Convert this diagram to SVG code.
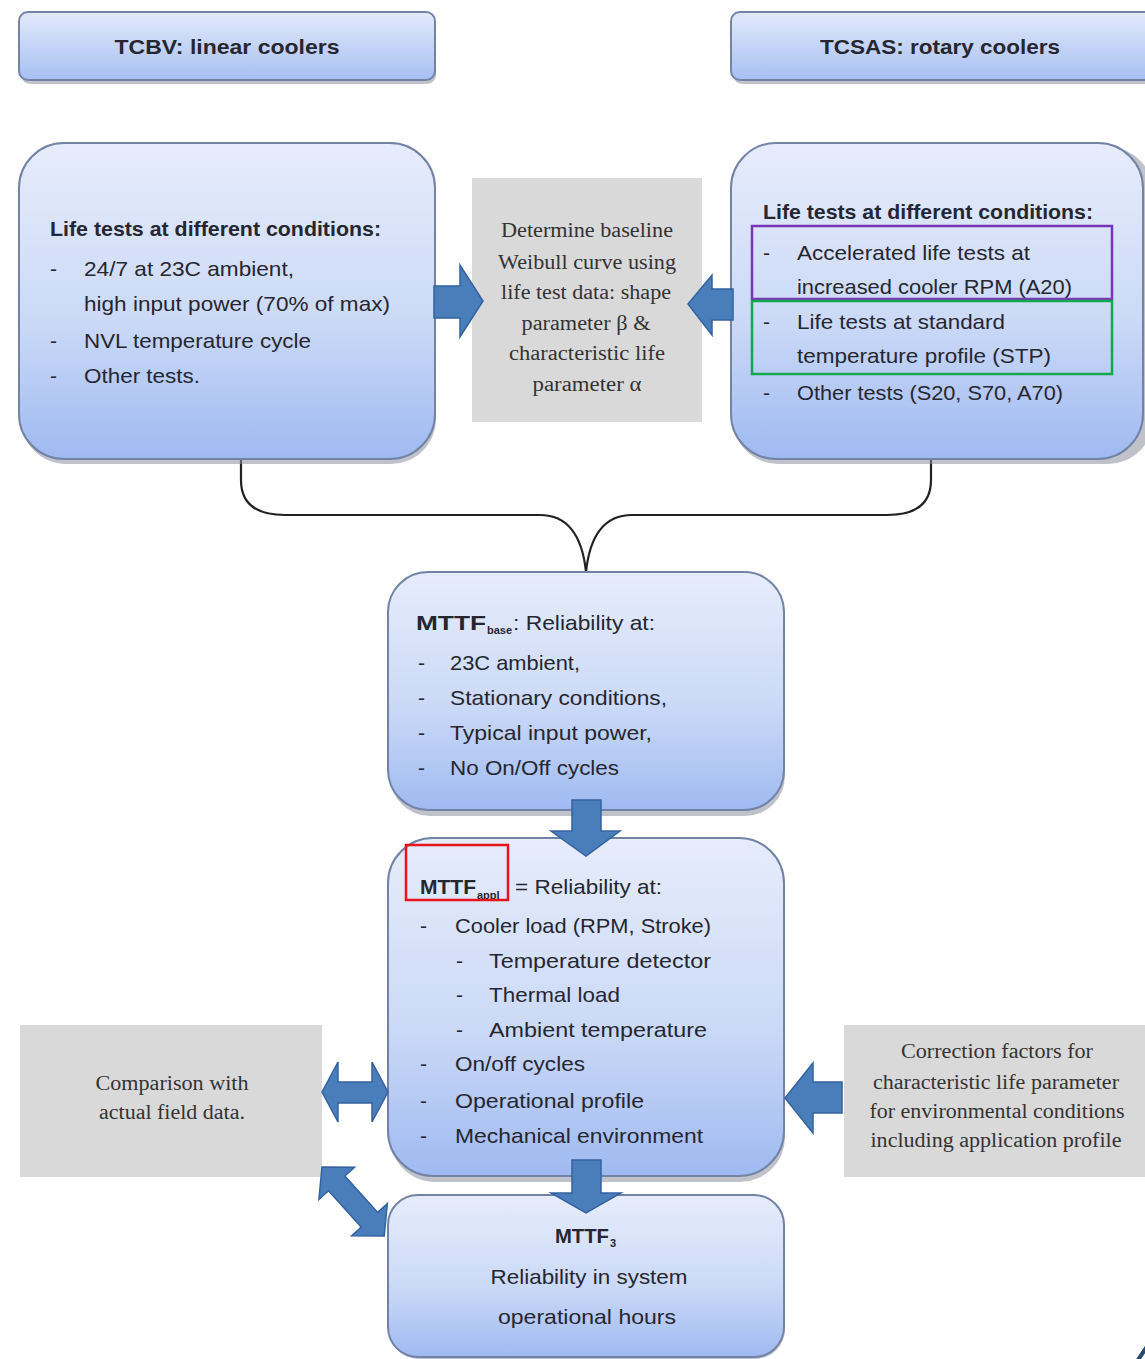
<svg xmlns="http://www.w3.org/2000/svg" width="1145" height="1359" viewBox="0 0 1145 1359">
<defs>
<linearGradient id="bg" x1="0" y1="0" x2="0" y2="1">
<stop offset="0" stop-color="#e6ecfb"/>
<stop offset="0.55" stop-color="#ccdaf7"/>
<stop offset="1" stop-color="#9fbaf1"/>
</linearGradient>
<linearGradient id="hg" x1="0" y1="0" x2="0" y2="1">
<stop offset="0" stop-color="#e3eafb"/>
<stop offset="1" stop-color="#a6bff2"/>
</linearGradient>
</defs>
<style>
.box{fill:url(#bg);stroke:#7283a6;stroke-width:2}
.hdr{fill:url(#hg);stroke:#7283a6;stroke-width:2}
.sh{fill:#8a8f9a;opacity:0.55}
.grey{fill:#d9d9d9}
.t{font-family:"Liberation Sans",Arial,sans-serif;font-size:21px;fill:#262630}
.b{font-weight:bold}
.sub{font-family:"Liberation Sans",Arial,sans-serif;font-size:11px;font-weight:bold;fill:#262630}
.s{font-family:"Liberation Serif","Times New Roman",serif;font-size:20px;fill:#333333;text-anchor:middle}
.arr{fill:#4a7ebb;stroke:#3462a0;stroke-width:1.5}
.con{fill:none;stroke:#222222;stroke-width:2.2}
</style>
<rect width="1145" height="1359" fill="#ffffff"/>

<g id="hdr-tcbv">
<rect class="sh" x="21" y="15" width="415" height="69" rx="9"/>
<rect class="hdr" x="19" y="12" width="416" height="68" rx="9"/>
<text class="t b" x="227" y="54" font-size="24" text-anchor="middle" textLength="225" lengthAdjust="spacingAndGlyphs">TCBV: linear coolers</text>
</g>
<g id="hdr-tcsas">
<rect class="sh" x="733" y="15" width="420" height="69" rx="9"/>
<rect class="hdr" x="731" y="12" width="424" height="68" rx="9"/>
<text class="t b" x="940" y="54" font-size="24" text-anchor="middle" textLength="240" lengthAdjust="spacingAndGlyphs">TCSAS: rotary coolers</text>
</g>

<g id="connectors">
<path class="con" d="M241,460 L241,480 Q241,515 285,515 L540,515 Q580,515 586,572"/>
<path class="con" d="M931,460 L931,480 Q931,515 887,515 L632,515 Q592,515 586,572"/>
</g>

<g id="box-left">
<rect class="sh" x="21" y="147" width="415" height="317" rx="45"/>
<rect class="box" x="19" y="143" width="416" height="316" rx="45"/>
<text class="t b" x="50" y="236" textLength="331" lengthAdjust="spacingAndGlyphs">Life tests at different conditions:</text>
<text class="t" x="50" y="276">-</text>
<text class="t" x="84" y="276" textLength="210" lengthAdjust="spacingAndGlyphs">24/7 at 23C ambient,</text>
<text class="t" x="84" y="311" textLength="306" lengthAdjust="spacingAndGlyphs">high input power (70% of max)</text>
<text class="t" x="50" y="348">-</text>
<text class="t" x="84" y="348" textLength="227" lengthAdjust="spacingAndGlyphs">NVL temperature cycle</text>
<text class="t" x="50" y="383">-</text>
<text class="t" x="84" y="383" textLength="116" lengthAdjust="spacingAndGlyphs">Other tests.</text>
</g>

<g id="box-weibull">
<rect class="grey" x="472" y="178" width="230" height="244"/>
<text class="s" x="587" y="237" textLength="172" lengthAdjust="spacingAndGlyphs">Determine baseline</text>
<text class="s" x="587" y="269" textLength="178" lengthAdjust="spacingAndGlyphs">Weibull curve using</text>
<text class="s" x="586" y="299" textLength="170" lengthAdjust="spacingAndGlyphs">life test data: shape</text>
<text class="s" x="586" y="330" textLength="129" lengthAdjust="spacingAndGlyphs">parameter β &amp;</text>
<text class="s" x="587" y="360" textLength="156" lengthAdjust="spacingAndGlyphs">characteristic life</text>
<text class="s" x="587" y="391" textLength="109" lengthAdjust="spacingAndGlyphs">parameter α</text>
</g>

<g id="box-right">
<rect class="sh" x="733" y="147" width="420" height="317" rx="45"/>
<rect class="box" x="731" y="143" width="412" height="316" rx="45"/>
<text class="t b" x="763" y="219" textLength="330" lengthAdjust="spacingAndGlyphs">Life tests at different conditions:</text>
<text class="t" x="763" y="260">-</text>
<text class="t" x="797" y="260" textLength="233" lengthAdjust="spacingAndGlyphs">Accelerated life tests at</text>
<text class="t" x="797" y="294" textLength="275" lengthAdjust="spacingAndGlyphs">increased cooler RPM (A20)</text>
<text class="t" x="763" y="329">-</text>
<text class="t" x="797" y="329" textLength="208" lengthAdjust="spacingAndGlyphs">Life tests at standard</text>
<text class="t" x="797" y="363" textLength="254" lengthAdjust="spacingAndGlyphs">temperature profile (STP)</text>
<text class="t" x="763" y="400">-</text>
<text class="t" x="797" y="400" textLength="266" lengthAdjust="spacingAndGlyphs">Other tests (S20, S70, A70)</text>
<rect x="752" y="226" width="360" height="73" fill="none" stroke="#7b35b8" stroke-width="2.5"/>
<rect x="752" y="301" width="360" height="73" fill="none" stroke="#12a84e" stroke-width="2.5"/>
</g>

<g id="box-mttf-base">
<rect class="sh" x="390" y="576" width="395" height="240" rx="40"/>
<rect class="box" x="388" y="572" width="396" height="238" rx="40"/>
<text class="t b" x="416" y="630" textLength="70" lengthAdjust="spacingAndGlyphs">MTTF</text>
<text class="sub" x="487" y="634">base</text>
<text class="t" x="513" y="630" textLength="142" lengthAdjust="spacingAndGlyphs">: Reliability at:</text>
<text class="t" x="418" y="670">-</text>
<text class="t" x="450" y="670" textLength="130" lengthAdjust="spacingAndGlyphs">23C ambient,</text>
<text class="t" x="418" y="705">-</text>
<text class="t" x="450" y="705" textLength="217" lengthAdjust="spacingAndGlyphs">Stationary conditions,</text>
<text class="t" x="418" y="740">-</text>
<text class="t" x="450" y="740" textLength="202" lengthAdjust="spacingAndGlyphs">Typical input power,</text>
<text class="t" x="418" y="775">-</text>
<text class="t" x="450" y="775" textLength="169" lengthAdjust="spacingAndGlyphs">No On/Off cycles</text>
</g>

<g id="box-mttf-appl">
<rect class="sh" x="390" y="842" width="395" height="340" rx="45"/>
<rect class="box" x="388" y="838" width="396" height="338" rx="45"/>
<text class="t b" x="420" y="894" textLength="56" lengthAdjust="spacingAndGlyphs">MTTF</text>
<text class="sub" x="477" y="899" font-size="12">appl</text>
<text class="t" x="515" y="894" textLength="147" lengthAdjust="spacingAndGlyphs">= Reliability at:</text>
<rect x="406" y="845" width="102" height="55" fill="none" stroke="#e8141c" stroke-width="2.5"/>
<text class="t" x="420" y="933">-</text>
<text class="t" x="455" y="933" textLength="256" lengthAdjust="spacingAndGlyphs">Cooler load (RPM, Stroke)</text>
<text class="t" x="456" y="968">-</text>
<text class="t" x="489" y="968" textLength="222" lengthAdjust="spacingAndGlyphs">Temperature detector</text>
<text class="t" x="456" y="1002">-</text>
<text class="t" x="489" y="1002" textLength="131" lengthAdjust="spacingAndGlyphs">Thermal load</text>
<text class="t" x="456" y="1037">-</text>
<text class="t" x="489" y="1037" textLength="218" lengthAdjust="spacingAndGlyphs">Ambient temperature</text>
<text class="t" x="420" y="1071">-</text>
<text class="t" x="455" y="1071" textLength="130" lengthAdjust="spacingAndGlyphs">On/off cycles</text>
<text class="t" x="420" y="1108">-</text>
<text class="t" x="455" y="1108" textLength="189" lengthAdjust="spacingAndGlyphs">Operational profile</text>
<text class="t" x="420" y="1143">-</text>
<text class="t" x="455" y="1143" textLength="248" lengthAdjust="spacingAndGlyphs">Mechanical environment</text>
</g>

<g id="box-mttf3">
<rect class="sh" x="390" y="1199" width="395" height="160" rx="30"/>
<rect class="box" x="388" y="1195" width="396" height="162" rx="30"/>
<text class="t b" x="555" y="1243" textLength="54" lengthAdjust="spacingAndGlyphs">MTTF</text>
<text class="sub" x="610" y="1247">3</text>
<text class="t" x="589" y="1284" text-anchor="middle" textLength="197" lengthAdjust="spacingAndGlyphs">Reliability in system</text>
<text class="t" x="587" y="1324" text-anchor="middle" textLength="178" lengthAdjust="spacingAndGlyphs">operational hours</text>
</g>

<g id="box-comparison">
<rect class="grey" x="20" y="1025" width="302" height="152"/>
<text class="s" x="172" y="1090" textLength="153" lengthAdjust="spacingAndGlyphs">Comparison with</text>
<text class="s" x="172" y="1119" textLength="146" lengthAdjust="spacingAndGlyphs">actual field data.</text>
</g>

<g id="box-correction">
<rect class="grey" x="844" y="1025" width="301" height="152"/>
<text class="s" x="997" y="1058" textLength="192" lengthAdjust="spacingAndGlyphs">Correction factors for</text>
<text class="s" x="996" y="1089" textLength="246" lengthAdjust="spacingAndGlyphs">characteristic life parameter</text>
<text class="s" x="997" y="1118" textLength="255" lengthAdjust="spacingAndGlyphs">for environmental conditions</text>
<text class="s" x="996" y="1147" textLength="251" lengthAdjust="spacingAndGlyphs">including application profile</text>
</g>

<g id="arrows">
<path class="arr" d="M434,286 L460,286 L460,265 L483,301 L460,337 L460,318 L434,318 Z"/>
<path class="arr" d="M733,289 L712,289 L712,275 L688,304 L712,335 L712,320 L733,320 Z"/>
<path class="arr" d="M572,800 L601,800 L601,831 L620,831 L586,856 L551,831 L572,831 Z"/>
<path class="arr" d="M572,1160 L601,1160 L601,1193 L621,1193 L586,1213 L551,1193 L572,1193 Z"/>
<path class="arr" d="M842,1082 L813,1082 L813,1063 L785,1098 L813,1133 L813,1113 L842,1113 Z"/>
<path class="arr" d="M322,1092 L338,1062 L338,1082 L372,1082 L372,1062 L388,1092 L372,1122 L372,1103 L338,1103 L338,1122 Z"/>
<path class="arr" transform="translate(322,1167) rotate(48)" d="M0,0 L22,-24 L22,-11 L71,-11 L71,-24 L93,0 L71,24 L71,11 L22,11 L22,24 Z"/>
</g>

<text x="1128" y="1382" font-family="Liberation Sans, Arial, sans-serif" font-size="60" fill="#2b4a70">4</text>
</svg>
